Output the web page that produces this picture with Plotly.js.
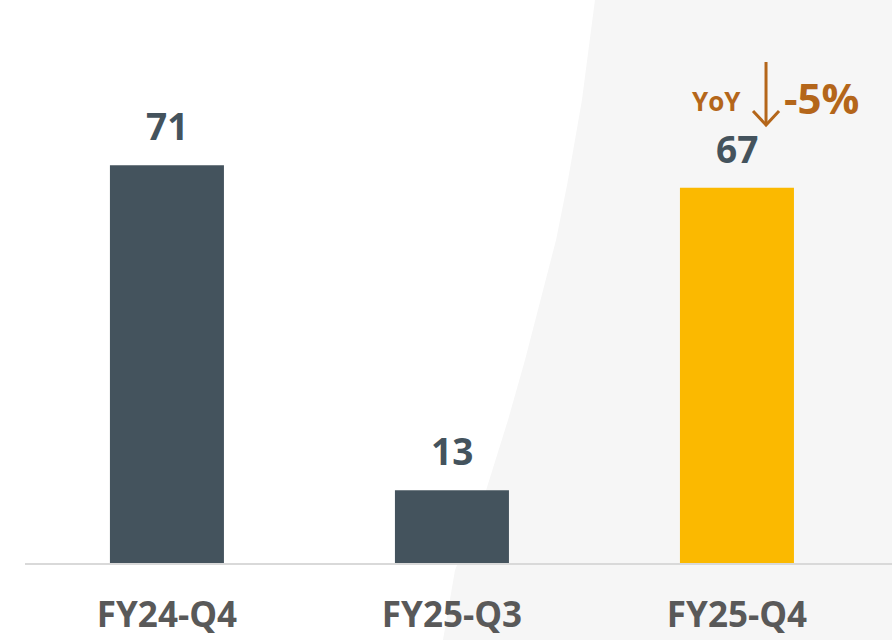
<!DOCTYPE html>
<html>
<head>
<meta charset="utf-8">
<script src="https://cdn.plot.ly/plotly-3.0.1.min.js"></script>
<style>html,body{margin:0;padding:0;background:#fff;}#chart{width:892px;height:640px;}</style>
</head>
<body>
<div id="chart"></div>
<script>
// ---- data ----
const categories = ["FY24-Q4", "FY25-Q3", "FY25-Q4"];
const values = [71, 13, 67];
const barColors = ["#44535d", "#44535d", "#fbb900"];
const yoyLabel = "YoY";
const yoyChange = "-5%";

// ---- layout helpers (pixel -> paper) ----
const W = 892, H = 640, ML = 25, MR = 0, MT = 0, MB = 77;
const PW = W - ML - MR, PH = H - MT - MB;
const px = x => (x - ML) / PW;
const py = y => (H - MB - y) / PH;
function pathFrom(pts, close) {
  return pts.map((p, i) => (i ? "L" : "M") + px(p[0]).toFixed(4) + "," + py(p[1]).toFixed(4)).join(" ") + (close ? " Z" : "");
}

const bgPts = [[595,0],[582,100],[568,180],[556,240],[525,360],[508,420],[483,500],[455,570],[443,640],[892,640],[892,0]];
const arrowCol = "#b4661a";

const trace = {
  type: "bar",
  x: categories,
  y: values,
  width: 0.4,
  marker: {color: barColors},
  hoverinfo: "none"
};

const labelAnn = categories.map((c, i) => ({
  x: c, y: values[i], xref: "x", yref: "y",
  text: String(values[i]), showarrow: false,
  yanchor: "bottom", yshift: 12,
  font: {family: "Open Sans", size: 37, color: "#44535d", weight: "bold"}
}));

const layout = {
  width: W, height: H,
  margin: {l: ML, r: MR, t: MT, b: MB, pad: 0},
  paper_bgcolor: "#ffffff",
  plot_bgcolor: "rgba(0,0,0,0)",
  showlegend: false,
  xaxis: {
    type: "category",
    range: [-0.498, 2.544],
    showline: true, linecolor: "#d9d9d9", linewidth: 2,
    ticks: "", showgrid: false, zeroline: false,
    ticklabelstandoff: 20,
    tickfont: {family: "Open Sans", size: 35, color: "#595959", weight: "bold"},
    fixedrange: true
  },
  yaxis: {
    range: [0, 100.5],
    visible: false, showgrid: false, zeroline: false, fixedrange: true
  },
  shapes: [
    {type: "path", xref: "paper", yref: "paper", layer: "below",
     path: pathFrom(bgPts, true), fillcolor: "#f6f6f6", line: {width: 0}},
    {type: "path", xref: "paper", yref: "paper", layer: "above",
     path: pathFrom([[766,62],[766,125]], false), line: {color: arrowCol, width: 3}},
    {type: "path", xref: "paper", yref: "paper", layer: "above",
     path: pathFrom([[753,111],[766,125],[779,111]], false), line: {color: arrowCol, width: 3}}
  ],
  annotations: labelAnn.concat([
    {xref: "paper", yref: "paper", x: px(743), y: py(101), xanchor: "right", yanchor: "middle",
     text: yoyLabel, showarrow: false,
     font: {family: "Open Sans", size: 26, color: arrowCol, weight: "bold"}},
    {xref: "paper", yref: "paper", x: px(782), y: py(98), xanchor: "left", yanchor: "middle",
     text: yoyChange, showarrow: false,
     font: {family: "Open Sans", size: 42, color: arrowCol, weight: "bold"}}
  ])
};

Plotly.newPlot("chart", [trace], layout, {displayModeBar: false, staticPlot: true});
</script>
</body>
</html>
